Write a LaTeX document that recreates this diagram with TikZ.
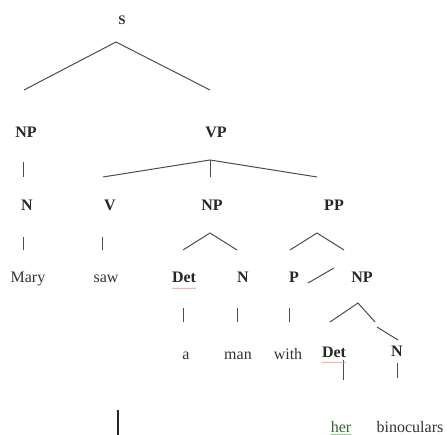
\documentclass[tikz,border=0pt]{standalone}
\usepackage{fontspec}
\setmainfont{Liberation Serif}
\usetikzlibrary{decorations.pathmorphing}
\tikzset{
  cat/.style={font=\fontsize{16}{16}\selectfont\bfseries, inner sep=0pt, anchor=base, black!85},
  word/.style={font=\fontsize{16}{16}\selectfont, inner sep=0pt, anchor=base, black!80},
  branch/.style={line width=1pt, black!70},
  spell/.style={red!45, line width=0.5pt, decorate, decoration={snake, amplitude=0.5pt, segment length=2.5pt}}
}

\begin{document}
\begin{tikzpicture}[x=1pt, y=-1pt]
\useasboundingbox (0,0) rectangle (447,435);

% labels

\node[cat, font=\fontsize{13}{13}\selectfont\bfseries] (S) at (122, 25) {S};
\node[cat] (NP1) at (26, 138) {NP};
\node[cat] (VP) at (216, 138) {VP};

\node[cat] (N1) at (27, 211) {N};
\node[cat] (V) at (110, 211) {V};
\node[cat] (NP2) at (212, 211) {NP};
\node[cat] (PP) at (334, 211) {PP};

\node[word] (Mary) at (28, 283) {Mary};
\node[word] (saw) at (106, 283) {saw};
\node[cat] (Det1) at (184, 283) {Det};
\node[cat] (N2) at (243, 283) {N};
\node[cat] (P) at (294, 283) {P};
\node[cat] (NP3) at (362, 283) {NP};

\node[word] (a) at (186, 360) {a};
\node[word] (man) at (238, 360) {man};
\node[word] (with) at (288, 360) {with};
\node[cat] (Det2) at (334, 358) {Det};
\node[cat] (N3) at (397, 357) {N};

\node[word, green!25!black!80] (her) at (341, 432) {her};
\node[word] (binoculars) at (410, 432) {binoculars};

% branch points

\coordinate (S0) at (116, 42);
\coordinate (S1) at (24, 90);
\coordinate (S2) at (210, 90);

\coordinate (VP0) at (210, 160);
\coordinate (VP1) at (103, 177);
\coordinate (VP2) at (210, 177);
\coordinate (VP3) at (317, 177);

\coordinate (NP2a) at (210, 233);
\coordinate (NP2b) at (183, 250);
\coordinate (NP2c) at (237, 250);

\coordinate (PPa) at (317, 233);
\coordinate (PPb) at (290, 250);
\coordinate (PPc) at (344, 250);

\coordinate (NP3a) at (358, 303);
\coordinate (NP3b) at (330, 322);
\coordinate (NP3c) at (375, 322);

% edges

\draw[branch] (S1) -- (S0) -- (S2);
\draw[branch] (NP1.south) ++(-3, 24) coordinate (NP1a) -- ++(0, 15) coordinate (NP1b);
\draw[branch] (VP1) -- (VP0) -- (VP3);
\draw[branch] (VP0) -- (VP2);

\draw[branch] (N1.south) ++(-4, 26) coordinate (N1a) -- ++(0, 13) coordinate (N1b);
\draw[branch] (V.south) ++(-8, 26) coordinate (Va) -- ++(0, 13) coordinate (Vb);
\draw[branch] (NP2b) -- (NP2a) -- (NP2c);
\draw[branch] (PPb) -- (PPa) -- (PPc);

\draw[branch] (Det1.south) ++(-1, 25) coordinate (Det1a) -- ++(0, 14) coordinate (Det1b);
\draw[branch] (N2.south) ++(-6, 25) coordinate (N2a) -- ++(0, 14) coordinate (N2b);
\draw[branch] (P.south) ++(-5, 25) coordinate (Pa) -- ++(0, 14) coordinate (Pb);
\coordinate (sl0) at (308, 283);
\coordinate (sl1) at (334, 268);
\draw[branch] (sl0) -- (sl1);
\draw[branch] (NP3b) -- (NP3a) -- (NP3c);
\coordinate (dg0) at (377, 327);
\coordinate (dg1) at (398, 340);
\draw[branch] (dg0) -- (dg1);

\draw[branch] (Det2.south) ++(9, 2) coordinate (Det2a) -- ++(0, 20) coordinate (Det2b);
\draw[branch] (N3.south) ++(0, 6) coordinate (N3a) -- ++(0, 15) coordinate (N3b);

% stray mark
\coordinate (m0) at (118, 410);
\coordinate (m1) at (118, 435);
\draw[line width=2.2pt, black!85] (m0) -- (m1);

% spell check marks
\draw[spell] ([yshift=-5pt]Det1.south west) -- ([yshift=-5pt]Det1.south east);
\draw[spell] ([yshift=-4pt]Det2.south west) -- ([yshift=-4pt]Det2.south east);
\draw[spell, green!40!black!50] ([yshift=-2pt]her.south west) -- ([yshift=-2pt]her.south east);

\end{tikzpicture}
\end{document}
